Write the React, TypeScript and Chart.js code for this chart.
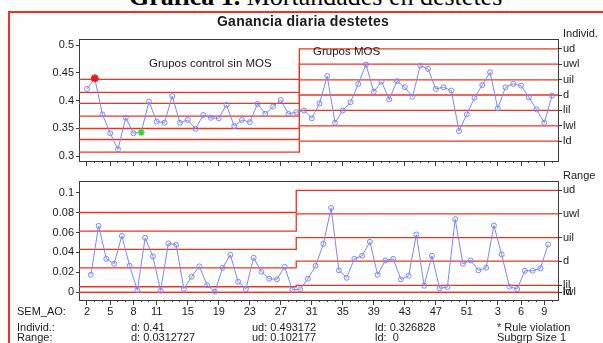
import React, { useEffect, useRef } from 'react';
import { Chart, registerables } from 'chart.js';

Chart.register(...registerables);

// ---- x categories (SEM_AO) ----
const WEEK_LABELS = ['2','3','4','5','6','7','8','9','10','11','12','13','14','15','16','17','18','19','20','21','22','23','24','25','26','27','28','29','30','31','32','33','34','35','36','37','38','39','40','41','42','43','44','45','46','47','48','49','50','51','52','1','2','3','4','5','6','7','8','9','10'];
const LABELED_TICK_INDEX = [0, 3, 6, 9, 13, 17, 21, 25, 29, 33, 37, 41, 45, 49, 53, 56, 59];

// ---- Individuals (Ganancia diaria) ----
const INDIVIDUALS = [
  0.421, 0.440, 0.375, 0.341, 0.312, 0.369, 0.341, 0.343, 0.398, 0.362,
  0.360, 0.408, 0.360, 0.365, 0.349, 0.374, 0.369, 0.368, 0.392, 0.354,
  0.365, 0.361, 0.394, 0.376, 0.389, 0.401, 0.376, 0.379,
  0.382, 0.368, 0.395, 0.444, 0.360, 0.382, 0.397, 0.430, 0.465, 0.416,
  0.434, 0.402, 0.435, 0.424, 0.407, 0.463, 0.457, 0.421, 0.424, 0.418,
  0.345, 0.375, 0.405, 0.428, 0.451, 0.386, 0.424, 0.430, 0.427, 0.406,
  0.384, 0.360, 0.409,
];
const RULE_VIOLATION_POINTS = [1];
const WARNING_POINTS = [7];

// ---- Moving ranges ----
const MOVING_RANGES = [
  0.0176, 0.0666, 0.0336, 0.0286, 0.0566, 0.0266, 0.0020, 0.0546, 0.0360, 0.0016,
  0.0490, 0.0476, 0.0036, 0.0156, 0.0260, 0.0070, 0.0006, 0.0246, 0.0376, 0.0106,
  0.0033, 0.0346, 0.0206, 0.0136, 0.0130, 0.0256, 0.0026, 0.0030, 0.0136, 0.0266,
  0.0486, 0.0846, 0.0220, 0.0146, 0.0336, 0.0366, 0.0506, 0.0176, 0.0320, 0.0336,
  0.0130, 0.0166, 0.0580, 0.0066, 0.0366, 0.0040, 0.0053, 0.0733, 0.0286, 0.0320,
  0.0220, 0.0246, 0.0670, 0.0380, 0.0056, 0.0033, 0.0216, 0.0216, 0.0240, 0.0480,
];

// ---- control limits (ucl, uwl, uil, cl, lil, lwl, lcl) ----
const LIMIT_NAMES = ['ud', 'uwl', 'uil', 'd', 'lil', 'lwl', 'ld'];
const IND_LIMITS_CONTROL = [0.4381, 0.4146, 0.3948, 0.3720, 0.3496, 0.3298, 0.3069];
const IND_LIMITS_MOS = [0.493172, 0.4657, 0.4374, 0.41, 0.3823, 0.3545, 0.326828];
const MR_LIMITS_CONTROL = [0.0800, 0.0613, 0.0430, 0.0246, 0.0056, 0, 0];
const MR_LIMITS_MOS = [0.102177, 0.0786, 0.0549, 0.0312727, 0.0070, 0, 0];
const IND_PHASE_BREAK = 27.4;
const MR_PHASE_BREAK = 27;

// ---- axis ticks / ranges ----
const IND_Y_TICKS = [0.3, 0.35, 0.4, 0.45, 0.5];
const MR_Y_TICKS = [0, 0.02, 0.04, 0.06, 0.08, 0.1];
const IND_Y_RANGE = [0.291, 0.511];
const MR_Y_RANGE = [-0.0077, 0.1116];
const X_RANGE = [-1.03, 60.77];

const FONT = 'Arial, "Liberation Sans", sans-serif';
const RED = 'rgb(238,52,32)';
const BLUE = 'rgb(118,136,255)';
const FRAME = '#3a3a3a';
const TXT = '#1a1a1a';

function limitDatasets(p1: number[], p2: number[], brk: number) {
  return p1.map((v, k) => ({
    type: 'line' as const,
    data: [
      { x: X_RANGE[0], y: v },
      { x: brk, y: v },
      { x: brk, y: p2[k] },
      { x: X_RANGE[1], y: p2[k] },
    ],
    borderColor: RED,
    borderWidth: 1.3,
    pointRadius: 0,
    fill: false,
    tension: 0,
    order: 2,
  }));
}

function makeConfig(opts: {
  values: { x: number; y: number }[];
  pointStyles?: (i: number) => any;
  limits: any[];
  yRange: number[];
  yTicks: number[];
  rightTicks: number[];
  padding: any;
  showXLabels: boolean;
}): any {
  const { values, limits, yRange, yTicks, rightTicks, padding, showXLabels } = opts;
  const ps = opts.pointStyles;
  return {
    type: 'line',
    data: {
      datasets: [
        {
          data: values,
          borderColor: BLUE,
          borderWidth: 1,
          backgroundColor: 'rgba(255,255,255,0)',
          pointRadius: (c: any) => (ps ? ps(c.dataIndex).r : 2.5),
          pointStyle: (c: any) => (ps ? ps(c.dataIndex).style : 'circle'),
          pointBorderColor: (c: any) => (ps ? ps(c.dataIndex).color : BLUE),
          pointBorderWidth: (c: any) => (ps ? ps(c.dataIndex).w : 1),
          pointBackgroundColor: 'rgba(255,255,255,0)',
          tension: 0,
          order: 0,
        },
        ...limits,
      ],
    },
    options: {
      animation: false,
      responsive: false,
      events: [],
      layout: { padding },
      plugins: { legend: { display: false }, tooltip: { enabled: false }, title: { display: false } },
      scales: {
        x: {
          type: 'linear',
          position: 'bottom',
          weight: 0,
          min: X_RANGE[0],
          max: X_RANGE[1],
          afterFit: (s: any) => { s.height = 0; },
          afterBuildTicks: (s: any) => { s.ticks = WEEK_LABELS.map((_, i) => ({ value: i })); },
          ticks: { display: false, autoSkip: false },
          grid: { drawOnChartArea: false, drawTicks: true, tickLength: 2, color: FRAME, lineWidth: 1 },
          border: { display: true, color: FRAME, width: 1 },
        },
        xMajor: {
          type: 'linear',
          position: 'bottom',
          weight: 1,
          min: X_RANGE[0],
          max: X_RANGE[1],
          afterFit: (s: any) => { s.height = showXLabels ? 20 : 6; },
          afterBuildTicks: (s: any) => { s.ticks = LABELED_TICK_INDEX.map((i) => ({ value: i })); },
          ticks: {
            display: showXLabels,
            autoSkip: false,
            maxRotation: 0,
            padding: 0,
            color: TXT,
            font: { family: FONT, size: 11 },
            callback: (v: number) => WEEK_LABELS[Math.round(v)],
          },
          grid: { drawOnChartArea: false, drawTicks: true, tickLength: 5, color: FRAME, lineWidth: 1 },
          border: { display: false },
        },
        xTop: {
          type: 'linear',
          position: 'top',
          min: X_RANGE[0],
          max: X_RANGE[1],
          afterFit: (s: any) => { s.height = 0; },
          ticks: { display: false },
          grid: { drawOnChartArea: false, drawTicks: false, tickLength: 0 },
          border: { display: true, color: FRAME, width: 1 },
        },
        y: {
          type: 'linear',
          position: 'left',
          min: yRange[0],
          max: yRange[1],
          afterFit: (s: any) => { s.width = 40; },
          afterBuildTicks: (s: any) => { s.ticks = yTicks.map((v) => ({ value: v })); },
          ticks: {
            autoSkip: false,
            padding: 2,
            color: TXT,
            font: { family: FONT, size: 11 },
            callback: (v: number) => String(parseFloat(v.toFixed(4))),
          },
          grid: { drawOnChartArea: false, drawTicks: true, tickLength: 3, color: FRAME },
          border: { display: true, color: FRAME, width: 1 },
        },
        yRight: {
          type: 'linear',
          position: 'right',
          min: yRange[0],
          max: yRange[1],
          afterFit: (s: any) => { s.width = 44; },
          afterBuildTicks: (s: any) => { s.ticks = rightTicks.map((v) => ({ value: v })); },
          ticks: {
            autoSkip: false,
            padding: 1,
            color: TXT,
            font: { family: FONT, size: 11 },
            callback: (_v: number, i: number) => LIMIT_NAMES[i],
          },
          grid: { drawOnChartArea: false, drawTicks: true, tickLength: 4, color: FRAME },
          border: { display: true, color: FRAME, width: 1 },
        },
      },
    },
  };
}

function Txt(props: { x: number; y: number; size?: number; bold?: boolean; align?: 'left' | 'center'; children: any; spacing?: number }) {
  const size = props.size ?? 11;
  const style: any = {
    position: 'absolute',
    top: props.y - size * 0.47,
    fontFamily: FONT,
    fontSize: size,
    lineHeight: `${size}px`,
    fontWeight: props.bold ? 'bold' : 'normal',
    color: TXT,
    whiteSpace: 'pre',
    letterSpacing: props.spacing ? `${props.spacing}px` : undefined,
  };
  if (props.align === 'center') {
    style.left = props.x - 200;
    style.width = 400;
    style.textAlign = 'center';
  } else {
    style.left = props.x;
  }
  return <div style={style}>{props.children}</div>;
}

export default function App() {
  const topRef = useRef<HTMLCanvasElement>(null);
  const botRef = useRef<HTMLCanvasElement>(null);

  useEffect(() => {
    const indStyle = (i: number) => {
      if (RULE_VIOLATION_POINTS.includes(i)) return { style: 'star', r: 4, color: 'rgb(240,20,20)', w: 2 };
      if (WARNING_POINTS.includes(i)) return { style: 'star', r: 3.5, color: 'rgb(40,220,40)', w: 1.5 };
      return { style: 'circle', r: 2.5, color: BLUE, w: 1 };
    };
    const top = new Chart(
      topRef.current as HTMLCanvasElement,
      makeConfig({
        values: INDIVIDUALS.map((v, i) => ({ x: i, y: v })),
        pointStyles: indStyle,
        limits: limitDatasets(IND_LIMITS_CONTROL, IND_LIMITS_MOS, IND_PHASE_BREAK),
        yRange: IND_Y_RANGE,
        yTicks: IND_Y_TICKS,
        rightTicks: IND_LIMITS_MOS,
        padding: { left: 39, right: 1, top: 39, bottom: 176 },
        showXLabels: false,
      })
    );
    const bottom = new Chart(
      botRef.current as HTMLCanvasElement,
      makeConfig({
        values: MOVING_RANGES.map((v, i) => ({ x: i + 0.5, y: v })),
        limits: limitDatasets(MR_LIMITS_CONTROL, MR_LIMITS_MOS, MR_PHASE_BREAK),
        yRange: MR_Y_RANGE,
        yTicks: MR_Y_TICKS,
        rightTicks: MR_LIMITS_MOS,
        padding: { left: 39, right: 1, top: 181, bottom: 23 },
        showXLabels: true,
      })
    );
    return () => {
      top.destroy();
      bottom.destroy();
    };
  }, []);

  return (
    <div style={{ position: 'absolute', left: 0, top: 0, width: 603, height: 343, overflow: 'hidden', background: '#fff' }}>
      <div
        style={{
          position: 'absolute',
          left: 129,
          top: -16,
          fontFamily: '"Times New Roman", "Liberation Serif", serif',
          fontSize: 26,
          lineHeight: '26px',
          whiteSpace: 'nowrap',
          color: '#000',
        }}
      >
        <b>Gráfica 1.</b> Mortandades en destetes
      </div>
      <div
        style={{
          position: 'absolute',
          left: 8,
          top: 11,
          width: 620,
          height: 360,
          border: `2px solid ${RED}`,
          boxSizing: 'border-box',
        }}
      />
      <canvas ref={topRef} width={603} height={343} style={{ position: 'absolute', left: 0, top: 0 }} />
      <canvas ref={botRef} width={603} height={343} style={{ position: 'absolute', left: 0, top: 0 }} />

      <Txt x={303} y={21} size={14} bold align="center" spacing={0.3}>Ganancia diaria destetes</Txt>
      <Txt x={149} y={63.5} size={11.5}>Grupos control sin MOS</Txt>
      <Txt x={313} y={51} size={11.5}>Grupos MOS</Txt>
      <Txt x={563} y={33}>Individ.</Txt>
      <Txt x={563} y={175}>Range</Txt>

      <Txt x={17} y={311}>SEM_AO:</Txt>
      <Txt x={17} y={327}>Individ.:</Txt>
      <Txt x={131} y={327}>d: 0.41</Txt>
      <Txt x={252} y={327}>ud: 0.493172</Txt>
      <Txt x={375} y={327}>ld: 0.326828</Txt>
      <Txt x={497} y={327}>* Rule violation</Txt>
      <Txt x={17} y={337}>Range:</Txt>
      <Txt x={131} y={337}>d: 0.0312727</Txt>
      <Txt x={252} y={337}>ud: 0.102177</Txt>
      <Txt x={375} y={337}>ld:  0</Txt>
      <Txt x={497} y={337}>Subgrp Size 1</Txt>
    </div>
  );
}
